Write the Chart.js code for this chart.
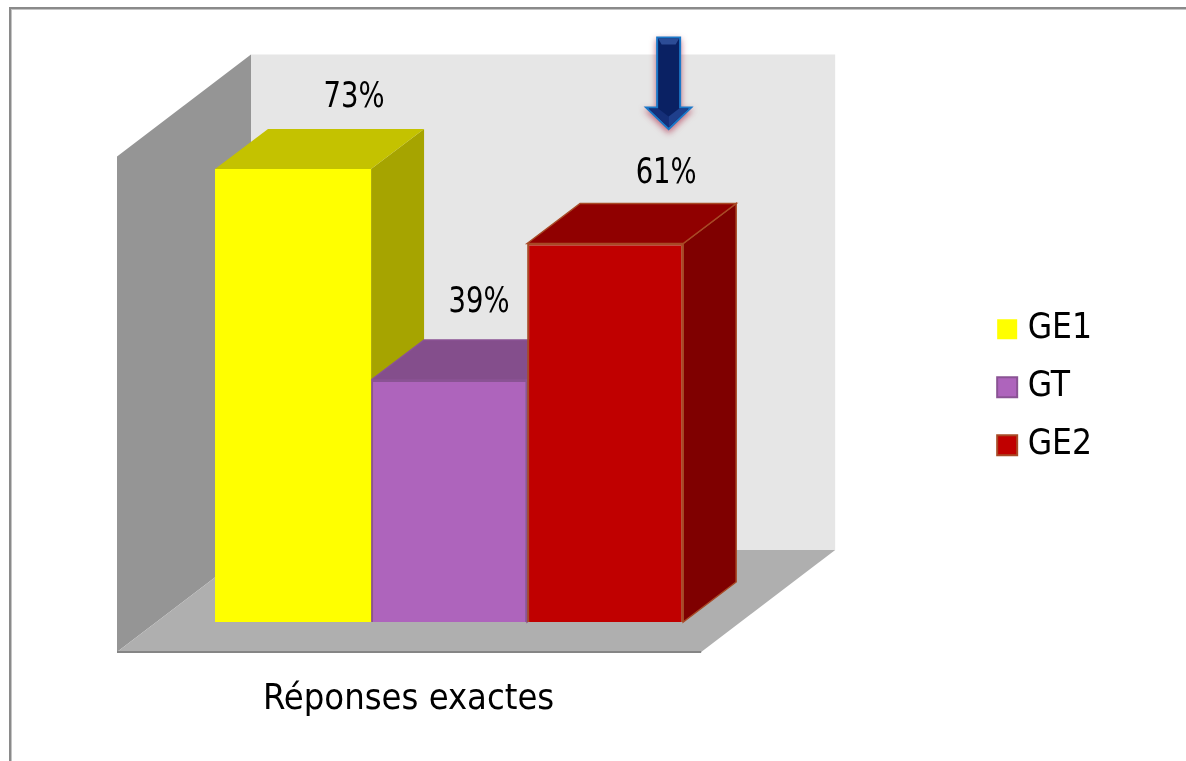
<!DOCTYPE html>
<html>
<head>
<meta charset="utf-8">
<style>
  html, body { margin: 0; padding: 0; background: #fff; overflow: hidden; }
  #wrap { position: relative; width: 1186px; height: 761px; overflow: hidden; }
  #frame { position: absolute; left: 9px; top: 7px; width: 1300px; height: 900px;
           border-top: 2px solid #8a8a8a; border-left: 2px solid #8a8a8a;
           box-shadow: inset 1px 1px 0 #c4c4c4; }
  canvas { position: absolute; left: 0; top: 0; }
</style>
<script src="https://cdn.jsdelivr.net/npm/chart.js@4"></script>
</head>
<body>
<div id="wrap">
  <div id="frame"></div>
  <canvas id="chart" width="1186" height="773"></canvas>
</div>
<script>
const categories = ['Réponses exactes'];
const seriesNames = ['GE1', 'GT', 'GE2'];
const seriesValues = [73, 39, 61];
const wallTopValue = 80;

const frontColors = ['#ffff00', '#ae64bc', '#c00000'];
const borderColors = ['#ffff00', '#8a5394', '#a84a26'];
const topColors = ['#c4c200', '#844e8c', '#900000'];
const sideColors = ['#a6a400', '#6f4377', '#7f0000'];
const textFont = '"DejaVu Sans Condensed", "DejaVu Sans", sans-serif';
const fontSize = 36;

function poly(ctx, pts, fill, stroke) {
  ctx.beginPath();
  pts.forEach((p, i) => i ? ctx.lineTo(p[0], p[1]) : ctx.moveTo(p[0], p[1]));
  ctx.closePath();
  ctx.fillStyle = fill;
  ctx.fill();
  if (stroke) {
    ctx.strokeStyle = stroke;
    ctx.lineWidth = 1.5;
    ctx.stroke();
  }
}

// fake 3D: walls, floor and the top/side faces of each bar
const box3d = {
  id: 'box3d',
  beforeDatasetsDraw(chart) {
    const ctx = chart.ctx, xs = chart.scales.x, ys = chart.scales.y;
    const fl = xs.left - 39.5, fr = xs.right - 40.5, fb = ys.bottom + 30;
    const dx = 134, dy = 102;
    const wt = ys.getPixelForValue(wallTopValue) - 71;
    ctx.save();
    poly(ctx, [[fl + dx, wt], [fr + dx, wt], [fr + dx, fb - dy], [fl + dx, fb - dy]], '#e6e6e6');
    poly(ctx, [[fl, wt + dy], [fl + dx, wt], [fl + dx, fb - dy], [fl, fb]], '#959595');
    poly(ctx, [[fl, fb], [fr, fb], [fr + dx, fb - dy], [fl + dx, fb - dy]], '#afafaf');
    ctx.strokeStyle = '#858585';
    ctx.lineWidth = 2;
    ctx.beginPath();
    ctx.moveTo(fl, fb);
    ctx.lineTo(fr, fb);
    ctx.stroke();

    const bx = 53, by = 40;
    seriesValues.forEach((v, i) => {
      const b = chart.getDatasetMeta(i).data[0];
      const l = b.x - b.width / 2, r = b.x + b.width / 2;
      const stroke = i ? borderColors[i] : null;
      poly(ctx, [[r, b.y], [r + bx, b.y - by], [r + bx, b.base - by], [r, b.base]], sideColors[i], stroke);
      poly(ctx, [[l, b.y], [l + bx, b.y - by], [r + bx, b.y - by], [r, b.y]], topColors[i], stroke);
    });
    ctx.restore();
  },
  afterDatasetsDraw(chart) {
    const ctx = chart.ctx;
    // value labels sit above the back edge of the bar, 39% is squeezed between its neighbours
    const shift = [[61, -71], [30, -77], [61, -70]];
    ctx.save();
    ctx.fillStyle = '#000';
    ctx.font = fontSize + 'px ' + textFont;
    ctx.textAlign = 'center';
    ctx.textBaseline = 'middle';
    seriesValues.forEach((v, i) => {
      const b = chart.getDatasetMeta(i).data[0];
      ctx.fillText(v + '%', b.x + shift[i][0], b.y + shift[i][1], 61);
    });

    // arrow pointing at GE2
    const b = chart.getDatasetMeta(2).data[0];
    const ax = b.x + 63.5, tip = b.y - 113;
    ctx.shadowColor = 'rgba(170,40,70,0.65)';
    ctx.shadowBlur = 6;
    ctx.shadowOffsetY = 3;
    poly(ctx, [[ax - 12.5, tip - 94], [ax + 12.5, tip - 94], [ax + 12.5, tip - 24], [ax + 25, tip - 24],
               [ax, tip], [ax - 25, tip - 24], [ax - 12.5, tip - 24]], '#1b78c8');
    ctx.shadowColor = 'transparent';
    poly(ctx, [[ax - 10.5, tip - 92], [ax + 10.5, tip - 92], [ax + 10.5, tip - 22], [ax + 20, tip - 22],
               [ax, tip - 3], [ax - 20, tip - 22], [ax - 10.5, tip - 22]], '#0a2163');
    poly(ctx, [[ax - 10.5, tip - 92], [ax + 10.5, tip - 92], [ax + 7, tip - 86], [ax - 7, tip - 86]], '#2c4c96');
    poly(ctx, [[ax - 20, tip - 22], [ax - 10.5, tip - 22], [ax, tip - 14], [ax, tip - 3]], '#152f78');
    poly(ctx, [[ax + 20, tip - 22], [ax + 10.5, tip - 22], [ax, tip - 14], [ax, tip - 3]], '#1f3f8c');
    ctx.restore();
  }
};

new Chart(document.getElementById('chart'), {
  type: 'bar',
  data: {
    labels: categories,
    datasets: seriesNames.map((name, i) => ({
      label: name,
      data: [seriesValues[i]],
      backgroundColor: frontColors[i],
      borderColor: borderColors[i],
      borderWidth: i ? 2 : 0,
      categoryPercentage: 0.8,
      barPercentage: 1
    }))
  },
  options: {
    responsive: false,
    animation: false,
    layout: { padding: { top: 1.5, left: 156.5, right: 84 } },
    scales: {
      x: {
        grid: { display: false, drawTicks: false },
        border: { display: false },
        ticks: { color: '#000', font: { family: textFont, size: fontSize }, padding: 56, labelOffset: -40.5 },
        afterFit(s) { s.height = 151; }
      },
      y: { display: false, min: 0, max: 100 },
      gap: {
        type: 'linear', axis: 'y', position: 'right',
        grid: { display: false }, border: { display: false }, ticks: { display: false },
        afterFit(s) { s.width = 239.5; }
      }
    },
    plugins: {
      tooltip: { enabled: false },
      legend: {
        position: 'right',
        labels: {
          color: '#000',
          font: { family: textFont, size: 35 },
          usePointStyle: true,
          pointStyle: 'rect',
          boxWidth: 6,
          boxHeight: 20,
          padding: 23
        }
      }
    }
  },
  plugins: [box3d]
});
</script>
</body>
</html>
